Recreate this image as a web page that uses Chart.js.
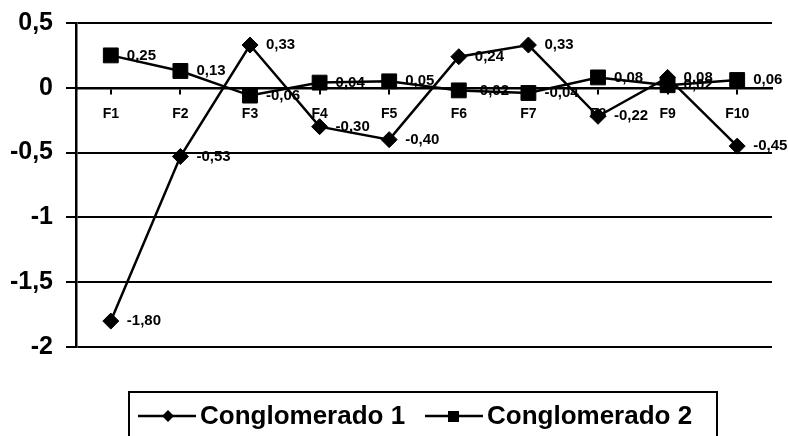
<!DOCTYPE html>
<html>
<head>
<meta charset="utf-8">
<script src="https://cdn.jsdelivr.net/npm/chart.js@4"></script>
<style>
  body { margin: 0; background: #fff; }
  #wrap { position: relative; width: 788px; height: 436px; overflow: hidden; }
  #legend {
    position: absolute; left: 128px; top: 391px; width: 586px; height: 60px;
    border: 2px solid #000; font: bold 26px "Liberation Sans", Arial, sans-serif;
  }
  .item { position: absolute; top: 7px; display: flex; align-items: center; }
  .item span { margin-left: 4px; }
</style>
</head>
<body>
<div id="wrap">
  <canvas id="chart" width="788" height="436"></canvas>
  <div id="legend">
    <div class="item" style="left:8px">
      <svg width="58" height="30"><line x1="0" y1="15" x2="58" y2="15" stroke="#000" stroke-width="2.5"/><polygon points="30,9 36,15 30,21 24,15" fill="#000"/></svg>
      <span>Conglomerado 1</span>
    </div>
    <div class="item" style="left:295px">
      <svg width="58" height="30"><line x1="0" y1="15" x2="58" y2="15" stroke="#000" stroke-width="2.5"/><rect x="23" y="10" width="11" height="11" fill="#000"/></svg>
      <span>Conglomerado 2</span>
    </div>
  </div>
</div>
<script>
const categories = ['F1', 'F2', 'F3', 'F4', 'F5', 'F6', 'F7', 'F8', 'F9', 'F10'];
const conglomerado1 = [-1.80, -0.53, 0.33, -0.30, -0.40, 0.24, 0.33, -0.22, 0.08, -0.45];
const conglomerado2 = [0.25, 0.13, -0.06, 0.04, 0.05, -0.02, -0.04, 0.08, 0.02, 0.06];
const yTicks = [0.5, 0, -0.5, -1, -1.5, -2];

const FONT = '"Liberation Sans", Arial, sans-serif';

// comma decimals like the original
const fmt = (v, d) => (d === undefined ? String(v) : v.toFixed(d)).replace('.', ',');

// value labels to the right of each marker
const valueLabels = {
  id: 'valueLabels',
  afterDatasetsDraw(chart) {
    const ctx = chart.ctx;
    ctx.save();
    ctx.font = 'bold 15px ' + FONT;
    ctx.fillStyle = '#000';
    ctx.textAlign = 'left';
    ctx.textBaseline = 'middle';
    chart.data.datasets.forEach((ds, i) => {
      chart.getDatasetMeta(i).data.forEach((pt, j) => {
        ctx.fillText(fmt(ds.data[j], 2), pt.x + 16, pt.y);
      });
    });
    ctx.restore();
  }
};

// fixed plot box: no extra room reserved for half-labels at the ends
const noEdgePad = s => {
  s.paddingTop = 0; s.paddingBottom = 0; s.paddingLeft = 0; s.paddingRight = 0;
};

const ctx = document.getElementById('chart').getContext('2d');
new Chart(ctx, {
  type: 'line',
  data: {
    labels: categories,
    datasets: [{
      label: 'Conglomerado 1',
      data: conglomerado1,
      borderColor: '#000',
      backgroundColor: '#000',
      borderWidth: 2.5,
      pointStyle: 'rectRot',
      pointRadius: 8,
      pointBorderWidth: 1,
      tension: 0,
    }, {
      label: 'Conglomerado 2',
      data: conglomerado2,
      borderColor: '#000',
      backgroundColor: '#000',
      borderWidth: 2.5,
      pointStyle: 'rect',
      pointRadius: 10.5,
      pointBorderWidth: 1,
      tension: 0,
    }]
  },
  options: {
    responsive: false,
    animation: false,
    devicePixelRatio: 1,
    layout: { padding: { top: 23, right: 16, bottom: 89, left: 0 } },
    scales: {
      x: {
        type: 'category',
        position: { y: 0 },
        offset: true,
        afterFit: noEdgePad,
        grid: { display: true, drawOnChartArea: false, tickLength: 5, color: '#000', lineWidth: 2 },
        border: { display: true, color: '#000', width: 2.5 },
        ticks: { color: '#000', padding: 13, maxRotation: 0, font: { family: FONT, size: 14, weight: 'bold' } },
      },
      y: {
        min: -2,
        max: 0.5,
        afterFit: s => { s.width = 76; noEdgePad(s); },
        afterBuildTicks: s => { s.ticks = yTicks.map(v => ({ value: v })); },
        grid: { color: '#000', lineWidth: 2, tickLength: 10 },
        border: { display: true, color: '#000', width: 2.5 },
        ticks: {
          color: '#000', padding: 13,
          font: { family: FONT, size: 25, weight: 'bold' },
          callback: v => fmt(v),
        },
      }
    },
    plugins: {
      legend: { display: false },
      tooltip: { enabled: false },
    }
  },
  plugins: [valueLabels]
});
</script>
</body>
</html>
